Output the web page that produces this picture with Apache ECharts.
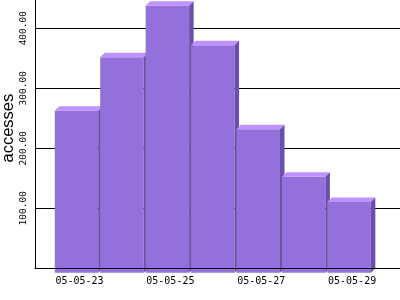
<!DOCTYPE html>
<html>
<head>
<meta charset="utf-8">
<script src="https://cdn.jsdelivr.net/npm/echarts@6/dist/echarts.min.js"></script>
<style>html,body{margin:0;padding:0;background:#fff}#c{width:400px;height:300px}</style>
</head>
<body>
<div id="c"></div>
<script>
const categories = ['05-05-23','05-05-24','05-05-25','05-05-26','05-05-27','05-05-28','05-05-29'];
const accesses = [270, 359, 445, 379, 239, 160, 118];
const yTicks = [100, 200, 300, 400];
const yMax = 447;

const FRONT = '#9370DB', TOP = '#BE92FF', SIDE = '#6B51A3';
const DEPTH = 4.5, FACE_W = 43.5, SHIFT = -3;

function renderItem(params, api) {
  const i = api.value(0), v = api.value(1);
  const top = api.coord([i, v]);
  const base = api.coord([i, 0]);
  const c = top[0];
  const x0 = c + SHIFT - FACE_W / 2, x1 = x0 + FACE_W;
  const ty = top[1], by = base[1], d = DEPTH;
  return {
    type: 'group',
    children: [
      {type: 'rect', shape: {x: x0, y: ty + d, width: FACE_W, height: by - ty}, style: {fill: FRONT}},
      {type: 'polygon', shape: {points: [[x0, ty + d], [x1, ty + d], [x1 + d, ty], [x0 + d, ty]]}, style: {fill: TOP}},
      {type: 'polygon', shape: {points: [[x1, ty + d], [x1 + d, ty], [x1 + d, by], [x1, by + d]]}, style: {fill: SIDE}}
    ]
  };
}

const chart = echarts.init(document.getElementById('c'), null, {renderer: 'canvas'});
chart.setOption({
  animation: false,
  backgroundColor: '#fff',
  grid: [
    {left: 35, right: 0, top: 0, bottom: 31.7, containLabel: false, outerBoundsMode: 'none'},
    {left: 56.8, right: 25.2, top: 0, bottom: 31.7, containLabel: false, outerBoundsMode: 'none'}
  ],
  xAxis: [
    {gridIndex: 0, type: 'value', min: 0, max: 1, z: 5,
     axisLine: {show: true, onZero: false, lineStyle: {color: '#000', width: 1}},
     axisTick: {show: false}, axisLabel: {show: false}, splitLine: {show: false}},
    {gridIndex: 1, type: 'category', data: categories, boundaryGap: true,
     axisLine: {show: false}, axisTick: {show: false},
     axisLabel: {interval: 1, margin: 8, color: '#000', fontFamily: 'DejaVu Sans Mono', fontSize: 10},
     splitLine: {show: false}}
  ],
  yAxis: [
    {gridIndex: 0, type: 'value', min: 0, max: yMax, interval: 100, z: 0,
     name: 'accesses', nameLocation: 'middle', nameGap: 18, nameMoveOverlap: false,
     nameTextStyle: {color: '#000', fontFamily: 'Liberation Sans', fontSize: 16.5, padding: [0, 0, 0, 12]},
     axisLine: {show: true, lineStyle: {color: '#000', width: 1}},
     axisTick: {show: false},
     axisLabel: {rotate: 90, margin: 6, color: '#000', fontFamily: 'DejaVu Sans Mono', fontSize: 9.5,
       showMinLabel: false, showMaxLabel: false,
       formatter: v => yTicks.indexOf(v) >= 0 ? v.toFixed(2) : ''},
     splitLine: {show: true, showMinLine: false, showMaxLine: false, lineStyle: {color: '#000', width: 1}}},
    {gridIndex: 1, type: 'value', min: 0, max: yMax, show: false}
  ],
  series: [{
    type: 'custom', xAxisIndex: 1, yAxisIndex: 1, clip: false, z: 2,
    renderItem: renderItem,
    data: accesses.map((v, i) => [i, v])
  }]
});
</script>
</body>
</html>
